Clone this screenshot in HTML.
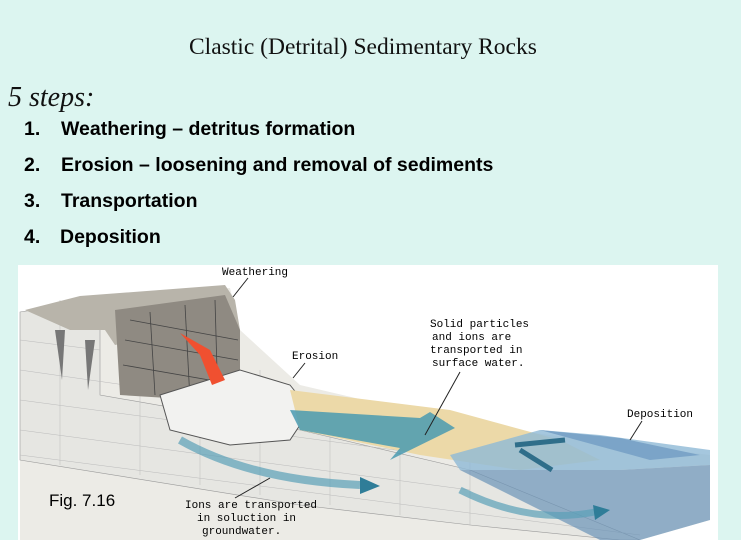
<!DOCTYPE html>
<html><head><meta charset="utf-8"><style>
body{margin:0;width:741px;height:540px;background:#dcf5f0;position:relative;overflow:hidden}
.t{position:absolute;white-space:nowrap}
.h{font-family:"Liberation Serif",serif;font-size:23.5px;left:189px;top:34px;color:#111}
.s{font-family:"Liberation Serif",serif;font-style:italic;font-size:28px;left:8px;top:82px;color:#111}
.l{font-family:"Liberation Sans",sans-serif;font-weight:bold;font-size:19.5px;color:#000}
</style></head><body>
<div class="t h">Clastic (Detrital) Sedimentary Rocks</div>
<div class="t s">5 steps:</div>
<div class="t l" style="left:24px;top:118px">1.</div><div class="t l" style="left:61px;top:118px">Weathering – detritus formation</div>
<div class="t l" style="left:24px;top:154px">2.</div><div class="t l" style="left:61px;top:154px">Erosion – loosening and removal of sediments</div>
<div class="t l" style="left:24px;top:190px">3.</div><div class="t l" style="left:61px;top:190px">Transportation</div>
<div class="t l" style="left:24px;top:226px">4.</div><div class="t l" style="left:60px;top:226px">Deposition</div>
<svg style="position:absolute;left:18px;top:265px" width="700" height="275" viewBox="18 265 700 275" font-family="Liberation Mono,monospace" font-size="11">
<rect x="18" y="265" width="700" height="275" fill="#fff"/>
<polygon points="20,312 160,290 230,288 240,330 300,385 470,425 710,455 710,520 640,540 20,540" fill="#ecebe6"/>
<polygon points="20,312 20,460 300,505 470,525 620,540 640,540 470,470 300,430 100,395 100,300" fill="#e6e6e2" stroke="#999" stroke-width="0.6"/>
<g stroke="#bbb" stroke-width="0.5">
<line x1="20" y1="340" x2="100" y2="350"/><line x1="20" y1="370" x2="300" y2="410"/><line x1="20" y1="400" x2="470" y2="460"/><line x1="20" y1="430" x2="470" y2="490"/><line x1="20" y1="455" x2="640" y2="535"/>
<line x1="60" y1="300" x2="60" y2="465"/><line x1="140" y1="300" x2="140" y2="475"/><line x1="200" y1="330" x2="200" y2="485"/><line x1="260" y1="370" x2="260" y2="495"/><line x1="330" y1="400" x2="330" y2="505"/><line x1="400" y1="420" x2="400" y2="515"/><line x1="470" y1="440" x2="470" y2="525"/>
</g>
<polygon points="25,310 80,296 160,290 225,285 235,300 240,330 140,340 115,345 105,330 70,330" fill="#b8b4aa"/>
<polygon points="115,310 225,295 240,330 240,410 200,400 120,395" fill="#8f8a82"/>
<g stroke="#444" stroke-width="0.8"><line x1="130" y1="320" x2="238" y2="340"/><line x1="125" y1="340" x2="238" y2="360"/><line x1="123" y1="365" x2="238" y2="385"/><line x1="150" y1="312" x2="155" y2="395"/><line x1="185" y1="305" x2="190" y2="400"/><line x1="215" y1="300" x2="218" y2="405"/></g>
<polygon points="55,330 65,330 62,380" fill="#777"/><polygon points="85,340 95,340 88,390" fill="#777"/>
<polygon points="160,395 240,370 290,385 310,410 290,440 230,445 170,430" fill="#f2f2f0" stroke="#555" stroke-width="1"/>
<polygon points="180,333 210,350 225,380 212,385 200,355" fill="#f05030"/>
<polygon points="290,390 450,410 560,440 600,460 520,470 420,455 300,430" fill="#ecd9a8"/>
<polygon points="290,410 420,418 430,412 455,428 390,460 400,448 300,430" fill="#4a9ab0" opacity="0.85"/>
<polygon points="450,455 540,430 600,435 710,450 710,465 620,470 460,470" fill="#8fb9d6" opacity="0.8"/>
<polygon points="460,470 620,470 710,465 710,520 640,540 600,540" fill="#6a93b8" opacity="0.7"/>
<polygon points="540,430 620,438 700,455 650,460" fill="#7ba4c8"/>
<path d="M180,440 Q250,480 360,485" stroke="#5aa0b8" stroke-width="8" fill="none" opacity="0.7"/>
<polygon points="360,477 380,486 360,494" fill="#2f7d98"/>
<path d="M460,490 Q530,525 595,512" stroke="#5aa0b8" stroke-width="7" fill="none" opacity="0.7"/>
<polygon points="593,505 610,510 595,520" fill="#2f7d98"/>
<path d="M515,445 L565,440 M520,450 L552,470" stroke="#2f6e8a" stroke-width="5" fill="none"/>
<text x="222" y="275">Weathering</text><line x1="248" y1="278" x2="233" y2="297" stroke="#222"/>
<text x="292" y="359">Erosion</text><line x1="305" y1="363" x2="293" y2="378" stroke="#222"/>
<text x="430" y="327">Solid particles</text><text x="432" y="340">and ions are</text><text x="430" y="353">transported in</text><text x="432" y="366">surface water.</text>
<line x1="460" y1="372" x2="425" y2="435" stroke="#222"/>
<text x="627" y="417">Deposition</text><line x1="642" y1="421" x2="630" y2="440" stroke="#222"/>
<text x="185" y="508">Ions are transported</text><text x="197" y="521">in soluction in</text><text x="202" y="534">groundwater.</text>
<line x1="235" y1="498" x2="270" y2="478" stroke="#222"/>
<text x="49" y="506" font-family="Liberation Sans,sans-serif" font-size="17">Fig. 7.16</text>
</svg>
</body></html>
